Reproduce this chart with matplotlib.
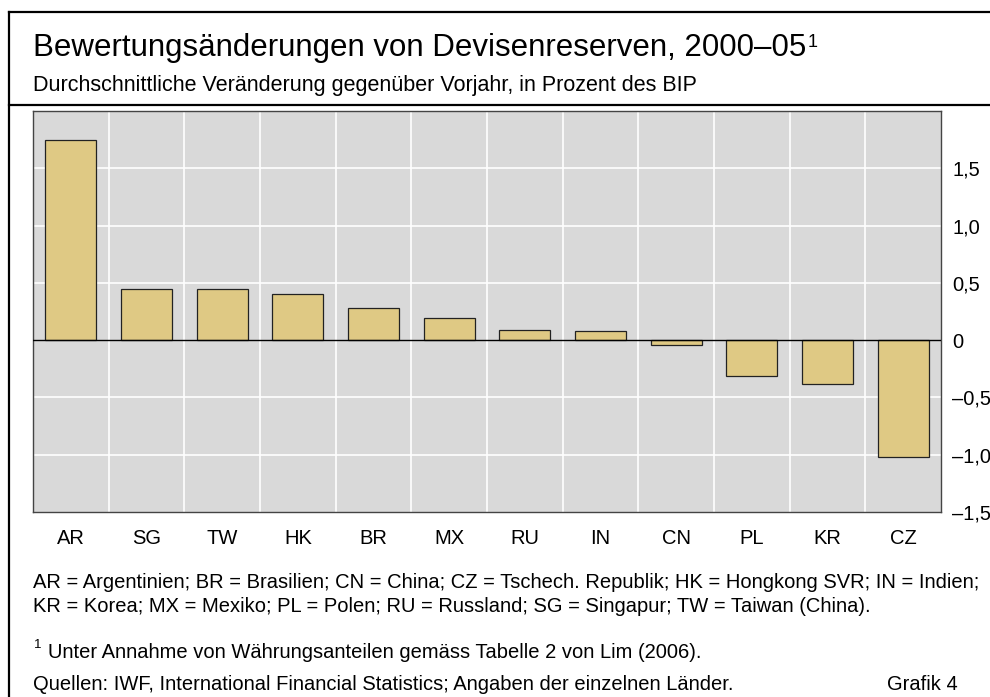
import matplotlib.pyplot as plt
import numpy as np
from matplotlib.lines import Line2D

plt.rcParams['font.family'] = ['Liberation Sans', 'DejaVu Sans']

countries = ['AR', 'SG', 'TW', 'HK', 'BR', 'MX', 'RU', 'IN', 'CN', 'PL', 'KR', 'CZ']
values = [1.75, 0.45, 0.45, 0.40, 0.28, 0.19, 0.09, 0.08, -0.045, -0.31, -0.38, -1.02]
yticks = [-1.5, -1.0, -0.5, 0, 0.5, 1.0, 1.5]
ytick_labels = ['–1,5', '–1,0', '–0,5', '0', '0,5', '1,0', '1,5']

W, H = 990, 697
fig = plt.figure(figsize=(9.9, 6.97), dpi=100)


def fx(px):
    return px / W


def fy(py):
    return 1 - py / H


# frame lines
fig.add_artist(Line2D([fx(9), 1], [fy(12), fy(12)], color='black', lw=1.6))
fig.add_artist(Line2D([fx(9), fx(9)], [fy(12), 0], color='black', lw=1.6))
fig.add_artist(Line2D([fx(9), 1], [fy(105), fy(105)], color='black', lw=1.6))

title = fig.text(fx(33), fy(48), 'Bewertungsänderungen von Devisenreserven, 2000–05',
                 fontsize=22.5, va='center', ha='left')
fig.text(fx(33), fy(86), 'Durchschnittliche Veränderung gegenüber Vorjahr, in Prozent des BIP',
         fontsize=15.5, va='center', ha='left')

ax = fig.add_axes([fx(33), fy(512), fx(941) - fx(33), fy(111) - fy(512)])
ax.annotate('1', xy=(1, 1), xycoords=title, xytext=(1, -1),
            textcoords='offset points', fontsize=13, va='top', ha='left')

ax.set_facecolor('#d9d9d9')
x = np.arange(len(countries))
ax.bar(x, values, width=0.67, color='#dfc984', edgecolor='#222222', linewidth=0.9, zorder=3)
ax.axhline(0, color='black', lw=1, zorder=4)

ax.set_xlim(-0.5, len(countries) - 0.5)
ax.set_ylim(-1.5, 2.0)
ax.set_yticks(yticks)
ax.set_yticklabels(ytick_labels)
ax.yaxis.tick_right()
ax.tick_params(axis='y', length=0, pad=8, labelsize=14.5)
ax.set_xticks(x)
ax.set_xticklabels(countries)
ax.tick_params(axis='x', length=0, pad=12, labelsize=14.5)

for yv in [-1.0, -0.5, 0.5, 1.0, 1.5]:
    ax.axhline(yv, color='white', lw=1.2, zorder=1)
for xv in np.arange(0.5, len(countries) - 0.5):
    ax.axvline(xv, color='white', lw=1.2, zorder=1)
for sp in ax.spines.values():
    sp.set_color('#444444')
    sp.set_linewidth(1)

fig.text(fx(33), fy(582), 'AR = Argentinien; BR = Brasilien; CN = China; CZ = Tschech. Republik; '
         'HK = Hongkong SVR; IN = Indien;', fontsize=14.5, va='center', ha='left')
fig.text(fx(33), fy(607), 'KR = Korea; MX = Mexiko; PL = Polen; RU = Russland; SG = Singapur; '
         'TW = Taiwan (China).', fontsize=14.5, va='center', ha='left')
fig.text(fx(34), fy(645), '1', fontsize=9.5, va='center', ha='left')
fig.text(fx(48), fy(652), 'Unter Annahme von Währungsanteilen gemäss Tabelle 2 von Lim (2006).',
         fontsize=14.5, va='center', ha='left')
fig.text(fx(33), fy(684), 'Quellen: IWF, International Financial Statistics; Angaben der einzelnen Länder.',
         fontsize=14.5, va='center', ha='left')
fig.text(fx(958), fy(684), 'Grafik 4', fontsize=14.5, va='center', ha='right')

fig.savefig('out.png', dpi=100)
